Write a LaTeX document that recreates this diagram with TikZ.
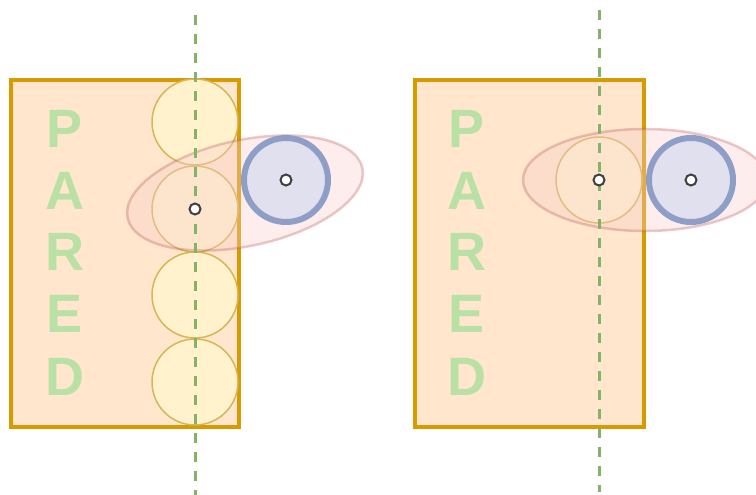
\documentclass[tikz,border=0pt]{standalone}
\usepackage{fontspec}
\setmainfont{Liberation Sans}
\definecolor{wallfill}{RGB}{255,230,204}
\definecolor{walldraw}{RGB}{215,155,0}
\definecolor{ballfill}{RGB}{255,242,204}
\definecolor{balldraw}{RGB}{214,182,86}
\definecolor{probefill}{RGB}{224,224,238}
\definecolor{probedraw}{RGB}{142,158,198}
\definecolor{zonefill}{RGB}{248,206,204}
\definecolor{zonedraw}{RGB}{184,84,80}
\definecolor{axisgreen}{RGB}{130,179,102}
\definecolor{lettergreen}{RGB}{185,224,165}
\tikzset{
  wall/.style={draw=walldraw, fill=wallfill, line width=4pt},
  ball/.style={circle, draw=balldraw, fill=ballfill, line width=1.5pt, minimum size=86pt, inner sep=0pt},
  probe/.style={circle, draw=probedraw, fill=probefill, line width=6pt, minimum size=84pt, inner sep=0pt},
  zone/.style={draw=zonedraw, draw opacity=0.3, fill=zonefill, fill opacity=0.35, line width=2.5pt},
  axisline/.style={axisgreen, line width=3pt, dash pattern=on 10pt off 9pt},
  pivot/.style={circle, draw=black!75, fill=white, line width=2pt, minimum size=11pt, inner sep=0pt},
  letter/.style={lettergreen, font=\fontsize{54}{54}\selectfont\bfseries, inner sep=0pt}
}
\begin{document}
\begin{tikzpicture}[x=1pt, y=-1pt]
	\useasboundingbox (0,0) rectangle (756,495);
	\clip (0,0) rectangle (756,495);
	\draw[wall] (11,80) rectangle (239,427);
	\draw[wall] (415,80) rectangle (644,427);
	\foreach \l/\y [count=\i] in {P/129,A/191,R/252,E/314,D/377} {
		\node[letter] (la\i) at (65,\y) {\l};
		\node[letter] (lb\i) at (467,\y) {\l};
	}
	\foreach \y [count=\i] in {122,209,295,382}
		\node[ball] (ba\i) at (195,\y) {};
	\node[ball] (bb1) at (599,180) {};
	\draw[zone, rotate around={12:(245,193)}] (245,193) ellipse [x radius=120, y radius=53];
	\draw[zone] (645,180) ellipse [x radius=122, y radius=51];
	\node[probe] (pa) at (286,180) {};
	\node[probe] (pb) at (691,180) {};
	\coordinate (axa top) at (195,15);
	\coordinate (axa bot) at (195,495);
	\coordinate (axb top) at (599,10);
	\coordinate (axb bot) at (599,492);
	\draw[axisline] (axa top) -- (axa bot);
	\draw[axisline] (axb top) -- (axb bot);
	\node[pivot] (ca) at (ba2.center) {};
	\node[pivot] (cpa) at (pa.center) {};
	\node[pivot] (cb) at (bb1.center) {};
	\node[pivot] (cpb) at (pb.center) {};
\end{tikzpicture}
\end{document}
